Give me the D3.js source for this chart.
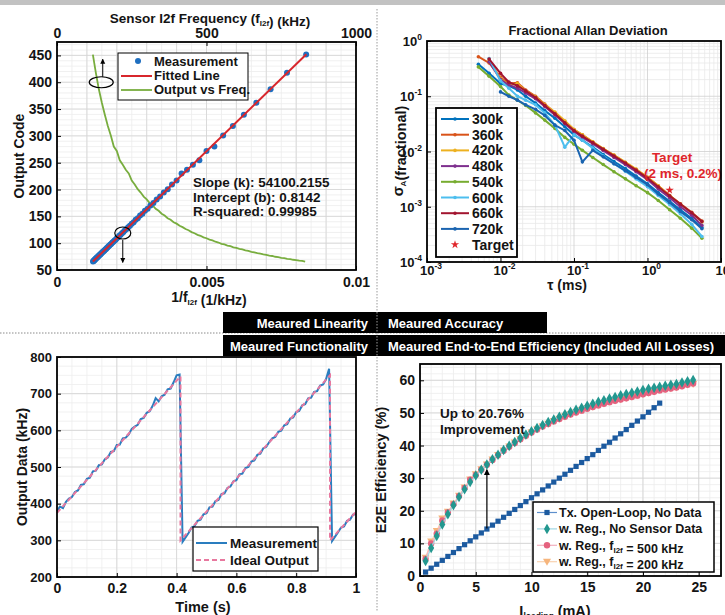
<!DOCTYPE html>
<html>
<head>
<meta charset="utf-8">
<script src="https://cdn.jsdelivr.net/npm/d3@7"></script>
<style>
  body { margin: 0; background: #fff; }
  text { font-family: "Liberation Sans", Arial, sans-serif; font-weight: bold; fill: #141414; }
</style>
</head>
<body>
<svg id="fig" width="725" height="615"></svg>
<script>
// ---------- data: linearity ----------
const freqKHz = [120,130,140,150,160,170,180,190,200,210,220,230,240,250,260,270,280,290,300,310,320,330,340,350,360,370,380,390,400,410,420,430,440,450,460,470,480,490,500,510,520,530,540,550,560,570,580,590,600,610,620,630,640,650,660,670,680,690,700,710,720,730,740,750,760,770,780,790,800,810,820,830]
const outCode = [451.6,417.5,386.8,361.9,339.4,318.6,300.9,280.2,271.8,254.5,246.2,236.8,230.0,216.8,209.5,200.6,194.4,186.9,181.5,174.8,170.3,164.2,160.4,155.0,151.5,146.6,143.6,139.1,136.4,132.4,129.9,126.3,124.1,120.7,118.6,115.6,113.8,110.9,109.2,106.6,105.1,102.7,101.2,98.9,97.6,95.5,94.3,92.2,91.2,89.3,88.3,86.5,85.5,83.8,83.0,81.4,80.6,79.0,78.3,76.8,76.1,74.7,74.1,72.7,72.2,70.9,70.4,69.1,68.6,67.4,67.0,65.8]
const fitX = [0.0012, 0.00834]
const fitY = [65.7, 452.0]
const fitText = ['Slope (k): 54100.2155', 'Intercept (b): 0.8142', 'R-squared: 0.99985']

// ---------- data: Allan deviation ----------
const tauMs = [0.005,0.007,0.01,0.013,0.017,0.022,0.03,0.04,0.055,0.075,0.1,0.13,0.18,0.25,0.35,0.5,0.7,1.0,1.4,2.0,2.8,4.0,5.5]
const s300 = [0.38,0.26,0.17,0.155,0.13,0.10,0.075,0.055,0.040,0.028,0.020,0.016,0.012,0.0088,0.0066,0.0049,0.0036,0.0026,0.0018,0.00125,0.00088,0.00061,0.00042]
const s360 = [0.52,0.40,0.22,0.17,0.175,0.13,0.10,0.072,0.050,0.035,0.025,0.020,0.0148,0.0112,0.0085,0.0063,0.0047,0.0034,0.0024,0.0016,0.00113,0.00079,0.00055]
const s420 = [null,0.45,0.21,0.16,0.17,0.125,0.098,0.070,0.052,0.036,0.025,0.020,0.015,0.0113,0.0086,0.0064,0.0048,0.0034,0.0024,0.0016,0.00112,0.00077,0.00053]
const s480 = [null,0.42,0.20,0.16,0.14,0.115,0.090,0.065,0.046,0.032,0.023,0.018,0.0138,0.0104,0.0078,0.0058,0.0043,0.0031,0.0021,0.00145,0.0010,0.00070,0.00046]
const s540 = [0.34,0.23,0.15,0.105,0.085,0.068,0.050,0.037,0.026,0.018,0.0135,0.0105,0.0078,0.0058,0.0043,0.0032,0.0024,0.0018,0.0013,0.00088,0.00062,0.00041,0.00027]
const s600 = [null,0.48,0.19,0.14,0.10,0.085,0.070,0.050,0.030,0.012,0.020,0.016,0.0115,0.0083,0.0060,0.0044,0.0032,0.0023,0.0016,0.0011,0.00075,0.00048,0.00029]
const s660 = [null,0.47,0.26,0.18,0.155,0.125,0.095,0.068,0.048,0.033,0.024,0.019,0.0145,0.011,0.0083,0.0062,0.0046,0.0033,0.0023,0.00158,0.00112,0.00078,0.00054]
const s720 = [null,null,0.12,0.10,0.085,0.07,0.058,0.045,0.03,0.024,0.016,0.0065,0.0105,0.008,0.006,0.0045,0.0034,0.0025,0.0017,0.0012,0.00082,0.00058,0.0004]
const allanNames = ['300k','360k','420k','480k','540k','600k','660k','720k']
const allanColors = ['#0072BD','#D95319','#EDB120','#7E2F8E','#77AC30','#4DBEEE','#A2142F','#1a64b0']
const target = [2, 0.002]

// ---------- data: functionality ----------
const timeS = [0,0.01,0.02,0.03,0.04,0.05,0.06,0.07,0.08,0.09,0.1,0.11,0.12,0.13,0.14,0.15,0.16,0.17,0.18,0.19,0.2,0.21,0.22,0.23,0.24,0.25,0.26,0.27,0.28,0.29,0.3,0.31,0.32,0.33,0.34,0.35,0.36,0.37,0.38,0.39,0.4,0.41,0.42,0.43,0.44,0.45,0.46,0.47,0.48,0.49,0.5,0.51,0.52,0.53,0.54,0.55,0.56,0.57,0.58,0.59,0.6,0.61,0.62,0.63,0.64,0.65,0.66,0.67,0.68,0.69,0.7,0.71,0.72,0.73,0.74,0.75,0.76,0.77,0.78,0.79,0.8,0.81,0.82,0.83,0.84,0.85,0.86,0.87,0.88,0.89,0.9,0.91,0.92,0.93,0.94,0.95,0.96,0.97,0.98,0.99,1.0]
const measKHz = [380,392,388,405,414,418,432,436,451,453,468,471,488,490,505,507,521,526,541,543,560,561,578,580,589,604,610,615,631,634,648,652,667,688,679,693,697,712,714,731,750,752,296,308,320,335,339,353,356,371,374,390,392,407,410,426,428,443,447,461,464,480,482,497,500,515,518,533,536,551,555,568,578,582,596,599,614,617,632,635,650,653,668,671,687,689,705,707,722,725,740,768,298,310,322,335,338,353,356,370,372]
const idealT = [0, 0.413, 0.413, 0.913, 0.913, 1.0]
const idealKHz = [375, 747, 300, 750, 300, 378]

// ---------- data: efficiency ----------
const iLoad = [0.5,1,1.5,2,2.5,3,3.5,4,4.5,5,5.5,6,6.5,7,7.5,8,8.5,9,9.5,10,10.5,11,11.5,12,12.5,13,13.5,14,14.5,15,15.5,16,16.5,17,17.5,18,18.5,19,19.5,20,20.5,21,21.5,22,22.5,23,23.5,24,24.5]
const effOpen = [1.2,2.4,3.6,4.8,6.0,7.2,8.4,9.6,10.8,12.0,13.2,14.4,15.6,16.8,18.0,19.2,20.4,21.6,22.8,24.0,25.2,26.4,27.6,28.8,30.0,31.2,32.4,33.6,34.8,36.0,37.2,38.5,39.8,41.0,42.3,43.6,44.9,46.2,47.5,48.8,50.2,51.6,53.0]
const effReg = [4.6,8.6,12.3,15.8,18.9,21.7,24.2,26.6,28.8,30.8,32.6,34.2,35.8,37.2,38.6,39.9,41.1,42.3,43.4,44.4,45.4,46.3,47.2,48.0,48.8,49.6,50.3,51.0,51.6,52.2,52.8,53.4,53.9,54.4,54.9,55.4,55.8,56.2,56.6,57.0,57.4,57.7,58.0,58.3,58.6,58.9,59.3,59.7,60.1]
const eff500 = [5.2,10.0,13.0,17.0,19.5,22.0,24.5,27.0,29.5,31.0,32.6,34.1,35.6,37.0,38.4,39.6,40.8,41.9,43.0,44.0,44.9,45.8,46.6,47.4,48.1,48.8,49.5,50.1,50.7,51.3,51.8,52.3,52.8,53.3,53.7,54.1,54.5,54.9,55.3,55.7,56.1,56.5,56.9,57.2,57.5,57.8,58.2,58.6,59.0]
const eff200 = [5.6,10.6,13.8,17.6,19.7,22.2,24.6,27.1,29.6,31.2,32.7,34.2,35.7,37.1,38.5,39.7,40.9,42.0,43.1,44.1,45.0,45.9,46.7,47.5,48.2,48.9,49.6,50.2,50.8,51.4,51.9,52.4,52.9,53.4,53.8,54.2,54.6,55.0,55.4,55.8,56.2,56.6,57.0,57.3,57.6,57.9,58.3,58.7,58.9]

const svg = d3.select('#fig')

// helpers
function grid(g, xs, ys, xVals, yVals, color) {
  g.selectAll(null).data(xVals).enter().append('line')
    .attr('x1', d => xs(d)).attr('x2', d => xs(d))
    .attr('y1', ys.range()[0]).attr('y2', ys.range()[1])
    .attr('stroke', color).attr('stroke-width', 0.8)
  g.selectAll(null).data(yVals).enter().append('line')
    .attr('y1', d => ys(d)).attr('y2', d => ys(d))
    .attr('x1', xs.range()[0]).attr('x2', xs.range()[1])
    .attr('stroke', color).attr('stroke-width', 0.8)
}
function frame(xs, ys) {
  svg.append('rect')
    .attr('x', xs.range()[0]).attr('y', ys.range()[1])
    .attr('width', xs.range()[1] - xs.range()[0])
    .attr('height', ys.range()[0] - ys.range()[1])
    .attr('fill', 'none').attr('stroke', '#000').attr('stroke-width', 1.8)
}
function styleAxis(g, size) {
  g.select('.domain').remove()
  g.selectAll('.tick line').attr('stroke', '#000')
  g.selectAll('.tick text').attr('font-size', size).attr('fill', '#141414')
}
function label(x, y, txt, size, rot, anchor) {
  return svg.append('text')
    .attr('transform', 'translate(' + x + ',' + y + ')' + (rot ? ' rotate(' + rot + ')' : ''))
    .attr('text-anchor', anchor || 'middle')
    .attr('font-size', size)
    .text(txt)
}
function sub(t, s) {
  t.append('tspan').attr('font-size', 8).attr('dy', 3).text(s)
  t.append('tspan').attr('dy', -3).text('')
}
const rng = n => d3.range(n)

// ---------- header / separators ----------
svg.append('rect').attr('x', 0).attr('y', 0).attr('width', 725).attr('height', 5).attr('fill', '#c2c2c2')
svg.append('line').attr('x1', 0).attr('x2', 725).attr('y1', 333).attr('y2', 333)
  .attr('stroke', '#8a8a8a').attr('stroke-dasharray', '1.5,1.5')
svg.append('rect').attr('x', 223).attr('y', 312).attr('width', 324).attr('height', 21).attr('fill', '#000')
svg.append('rect').attr('x', 223).attr('y', 335).attr('width', 502).attr('height', 21).attr('fill', '#000')
const hdr = [['Meaured Linearity', 368, 327.5, 'end'], ['Meaured Accuracy', 388, 327.5, 'start'],
             ['Meaured Functionality', 368, 350.5, 'end'], ['Meaured End-to-End Efficiency (Included All Losses)', 388, 350.5, 'start']]
hdr.forEach(h => label(h[1], h[2], h[0], 13, 0, h[3]).style('fill', '#fff'))
svg.append('line').attr('x1', 377).attr('x2', 377).attr('y1', 9).attr('y2', 612)
  .attr('stroke', '#9a9a9a').attr('stroke-dasharray', '1.5,1.5')

// ---------- panel 1: linearity ----------
const x1 = d3.scaleLinear().domain([0, 0.01]).range([57, 356])
const x1top = d3.scaleLinear().domain([0, 1000]).range([57, 356])
const y1 = d3.scaleLinear().domain([50, 475]).range([270, 42])
const g1 = svg.append('g')
grid(g1, x1, y1, d3.range(0.0005, 0.01, 0.0005), d3.range(60, 475, 10), '#ececec')
grid(g1, x1, y1, d3.range(0.001, 0.01, 0.001), d3.range(50, 475, 50), '#d4d4d4')

g1.append('path')
  .datum(rng(freqKHz.length))
  .attr('fill', 'none').attr('stroke', '#78ad3e').attr('stroke-width', 1.8)
  .attr('d', d3.line().x(i => x1top(freqKHz[i])).y(i => y1(outCode[i])))
g1.selectAll('.meas').data(rng(freqKHz.length)).enter().append('circle')
  .attr('cx', i => x1(1 / freqKHz[i])).attr('cy', i => y1(outCode[i]))
  .attr('r', 3).attr('fill', '#1f6fc0')
g1.append('path')
  .datum(rng(fitX.length))
  .attr('fill', 'none').attr('stroke', '#d8262c').attr('stroke-width', 2)
  .attr('d', d3.line().x(i => x1(fitX[i])).y(i => y1(fitY[i])))

frame(x1, y1)
svg.append('g').attr('transform', 'translate(57,0)')
  .call(d3.axisLeft(y1).tickValues(d3.range(50, 451, 50)).tickSize(-4).tickPadding(5))
  .call(g => styleAxis(g, 14))
svg.append('g').attr('transform', 'translate(0,270)')
  .call(d3.axisBottom(x1).tickValues([0, 0.005, 0.01]).tickFormat(d => d === 0 ? '0' : String(d)).tickSize(-4).tickPadding(7))
  .call(g => styleAxis(g, 14))
svg.append('g').attr('transform', 'translate(0,42)')
  .call(d3.axisTop(x1top).tickValues([0, 500, 1000]).tickFormat(d => String(d)).tickSize(-4).tickPadding(4))
  .call(g => styleAxis(g, 14))

let t = label(210, 23, 'Sensor I2f Frequency (f', 13.5)
sub(t, 'I2f'); t.append('tspan').text(') (kHz)')
label(24, 156, 'Output Code', 14, -90)
t = label(209, 302, '1/f', 14)
sub(t, 'I2f'); t.append('tspan').text(' (1/kHz)')

// annotations
svg.append('ellipse').attr('cx', x1top(148)).attr('cy', y1(400)).attr('rx', 12).attr('ry', 5.5)
  .attr('fill', 'none').attr('stroke', '#000').attr('stroke-width', 1.2)
svg.append('ellipse').attr('cx', x1(0.0022)).attr('cy', y1(119)).attr('rx', 8).attr('ry', 6)
  .attr('fill', 'none').attr('stroke', '#000').attr('stroke-width', 1.2)
svg.append('defs').append('marker').attr('id', 'ah').attr('viewBox', '0 0 10 10')
  .attr('refX', 9).attr('refY', 5).attr('markerWidth', 5).attr('markerHeight', 6).attr('orient', 'auto')
  .append('path').attr('d', 'M0,0L10,5L0,10z').attr('fill', '#000')
svg.append('line').attr('x1', x1top(153)).attr('x2', x1top(153)).attr('y1', y1(410)).attr('y2', y1(443))
  .attr('stroke', '#000').attr('stroke-width', 1).attr('marker-end', 'url(#ah)')
svg.append('line').attr('x1', x1(0.0022)).attr('x2', x1(0.0022)).attr('y1', y1(106)).attr('y2', y1(64))
  .attr('stroke', '#000').attr('stroke-width', 1).attr('marker-end', 'url(#ah)')
fitText.forEach((s, i) => label(193, 187 + i * 14.5, s, 13.5, 0, 'start'))

// legend
svg.append('rect').attr('x', 118).attr('y', 53).attr('width', 130).attr('height', 47)
  .attr('fill', '#fff').attr('stroke', '#000').attr('stroke-width', 1)
svg.append('circle').attr('cx', 138).attr('cy', 61).attr('r', 3).attr('fill', '#1f6fc0')
svg.append('line').attr('x1', 121).attr('x2', 152).attr('y1', 76).attr('y2', 76).attr('stroke', '#d8262c').attr('stroke-width', 2)
svg.append('line').attr('x1', 121).attr('x2', 152).attr('y1', 90).attr('y2', 90).attr('stroke', '#78ad3e').attr('stroke-width', 1.8)
;['Measurement', 'Fitted Line', 'Output vs Freq.'].forEach((s, i) => label(154, 66 + i * 14, s, 13, 0, 'start'))

// ---------- panel 2: Allan deviation ----------
const x2 = d3.scaleLog().domain([1e-3, 1e1]).range([427, 721])
const y2 = d3.scaleLog().domain([1e-4, 1]).range([262, 41])
const g2 = svg.append('g')
const minorX = [], minorY = []
;[1e-3, 1e-2, 1e-1, 1].forEach(d => d3.range(2, 10).forEach(k => minorX.push(d * k)))
;[1e-4, 1e-3, 1e-2, 1e-1].forEach(d => d3.range(2, 10).forEach(k => minorY.push(d * k)))
grid(g2, x2, y2, minorX, minorY, '#e9e9e9')
grid(g2, x2, y2, [1e-2, 1e-1, 1], [1e-3, 1e-2, 1e-1], '#cfcfcf')

const allan = [s300, s360, s420, s480, s540, s600, s660, s720]
allan.forEach((s, k) => {
  g2.append('path').datum(rng(tauMs.length))
    .attr('fill', 'none').attr('stroke', allanColors[k]).attr('stroke-width', 2)
    .attr('d', d3.line().defined(i => s[i] != null).x(i => x2(tauMs[i])).y(i => y2(s[i])))
  g2.selectAll(null).data(rng(tauMs.length).filter(i => s[i] != null)).enter().append('circle')
    .attr('cx', i => x2(tauMs[i])).attr('cy', i => y2(s[i])).attr('r', 1.8).attr('fill', allanColors[k])
})
const star = d3.symbol().type(d3.symbolStar).size(22)
svg.append('path').attr('d', star()).attr('fill', '#e0262b')
  .attr('transform', 'translate(' + x2(target[0]) + ',' + y2(target[1]) + ')')
label(672, 162, 'Target', 13.5).style('fill', '#e0262b')
label(683, 178, '(2 ms, 0.2%)', 13.5).style('fill', '#e0262b')

frame(x2, y2)
svg.append('g').attr('transform', 'translate(427,0)')
  .call(d3.axisLeft(y2).tickValues([1e-4, 1e-3, 1e-2, 1e-1, 1]).tickFormat('').tickSize(-4))
  .call(g => styleAxis(g, 13))
svg.append('g').attr('transform', 'translate(0,262)')
  .call(d3.axisBottom(x2).tickValues([1e-3, 1e-2, 1e-1, 1, 10]).tickFormat('').tickSize(-4))
  .call(g => styleAxis(g, 13))
const pow = e => (e < 0 ? '-' : '') + Math.abs(e)
;[-4, -3, -2, -1, 0].forEach(e => {
  const tt = label(422, y2(Math.pow(10, e)) + 5, '10', 13, 0, 'end')
  tt.append('tspan').attr('font-size', 8.5).attr('dy', -6).text(pow(e))
})
;[-3, -2, -1, 0, 1].forEach(e => {
  const tt = label(x2(Math.pow(10, e)) + 4, 275, '10', 13)
  tt.append('tspan').attr('font-size', 8.5).attr('dy', -6).text(pow(e))
})
label(588, 35, 'Fractional Allan Deviation', 13)
t = label(403, 151, 'σ', 14.5, -90)
sub(t, 'A'); t.append('tspan').text('(fractional)')
label(567, 290, 'τ (ms)', 14)

svg.append('rect').attr('x', 436).attr('y', 108).attr('width', 81).attr('height', 149)
  .attr('fill', '#fff').attr('stroke', '#000').attr('stroke-width', 1.8)
allanNames.forEach((n, k) => {
  const yy = 119 + k * 15.7
  svg.append('line').attr('x1', 441).attr('x2', 469).attr('y1', yy).attr('y2', yy)
    .attr('stroke', allanColors[k]).attr('stroke-width', 2)
  svg.append('circle').attr('cx', 455).attr('cy', yy).attr('r', 1.8).attr('fill', allanColors[k])
  label(472, yy + 5, n, 14, 0, 'start')
})
svg.append('path').attr('d', star()).attr('fill', '#e0262b').attr('transform', 'translate(455,' + (119 + 8 * 15.7) + ')')
label(472, 119 + 8 * 15.7 + 5, 'Target', 14, 0, 'start')

// ---------- panel 3: functionality ----------
const x3 = d3.scaleLinear().domain([0, 1]).range([57, 356])
const y3 = d3.scaleLinear().domain([200, 800]).range([577, 357])
const g3 = svg.append('g')
grid(g3, x3, y3, d3.range(0.05, 1, 0.05), d3.range(225, 800, 25), '#ededed')
grid(g3, x3, y3, d3.range(0.2, 1, 0.2), d3.range(300, 800, 100), '#d2d2d2')
g3.append('path').datum(rng(timeS.length))
  .attr('fill', 'none').attr('stroke', '#2a7dbf').attr('stroke-width', 2)
  .attr('d', d3.line().x(i => x3(timeS[i])).y(i => y3(measKHz[i])))
g3.append('path').datum(rng(idealT.length))
  .attr('fill', 'none').attr('stroke', '#e8789f').attr('stroke-width', 2).attr('stroke-dasharray', '5,3')
  .attr('d', d3.line().x(i => x3(idealT[i])).y(i => y3(idealKHz[i])))
frame(x3, y3)
svg.append('g').attr('transform', 'translate(57,0)')
  .call(d3.axisLeft(y3).tickValues(d3.range(200, 801, 100)).tickSize(-4).tickPadding(5))
  .call(g => styleAxis(g, 13))
svg.append('g').attr('transform', 'translate(0,577)')
  .call(d3.axisBottom(x3).tickValues(d3.range(0, 1.01, 0.2)).tickFormat(d3.format('~g')).tickSize(-4).tickPadding(6))
  .call(g => styleAxis(g, 14))
label(27, 467, 'Output Data (kHz)', 14, -90)
label(203, 612, 'Time (s)', 14.5)
svg.append('rect').attr('x', 193).attr('y', 527).attr('width', 125).attr('height', 44)
  .attr('fill', '#fff').attr('stroke', '#000').attr('stroke-width', 1.2)
svg.append('line').attr('x1', 196).attr('x2', 227).attr('y1', 543).attr('y2', 543).attr('stroke', '#2a7dbf').attr('stroke-width', 2)
svg.append('line').attr('x1', 196).attr('x2', 227).attr('y1', 560).attr('y2', 560).attr('stroke', '#e8789f').attr('stroke-width', 2).attr('stroke-dasharray', '5,3')
label(230, 548, 'Measurement', 13.5, 0, 'start')
label(230, 565, 'Ideal Output', 13.5, 0, 'start')

// ---------- panel 4: efficiency ----------
const x4 = d3.scaleLinear().domain([0, 27]).range([420, 721])
const y4 = d3.scaleLinear().domain([0, 65]).range([576, 364])
const g4 = svg.append('g')
grid(g4, x4, y4, d3.range(1, 27, 1), d3.range(2, 65, 2), '#ececec')
grid(g4, x4, y4, d3.range(5, 27, 5), d3.range(10, 65, 10), '#d2d2d2')

const diamond = d3.symbol().type(d3.symbolDiamond).size(32)
const tri = 'M-4,-3L4,-3L0,4Z'
const series4 = [
  { v: eff200, c: '#f6b57c', lc: '#f9d2b0', m: 'tri' },
  { v: eff500, c: '#e5627f', lc: '#f2b0bf', m: 'circle' },
  { v: effReg, c: '#23978f', lc: '#9fd6e2', m: 'diamond' },
  { v: effOpen, c: '#1c5a9f', lc: '#5d8fcc', m: 'square' }
]
function marker(g, m, c, x, y) {
  if (m === 'square') g.append('rect').attr('x', x - 2.6).attr('y', y - 2.6).attr('width', 5.2).attr('height', 5.2).attr('fill', c)
  else if (m === 'circle') g.append('circle').attr('cx', x).attr('cy', y).attr('r', 3.2).attr('fill', c)
  else if (m === 'diamond') g.append('path').attr('d', diamond()).attr('transform', 'translate(' + x + ',' + y + ')').attr('fill', c)
  else g.append('path').attr('d', tri).attr('transform', 'translate(' + x + ',' + y + ')').attr('fill', c)
}
series4.forEach(s => {
  g4.append('path').datum(rng(s.v.length))
    .attr('fill', 'none').attr('stroke', s.lc).attr('stroke-width', 1.2)
    .attr('d', d3.line().x(i => x4(iLoad[i])).y(i => y4(s.v[i])))
  s.v.forEach((v, i) => marker(g4, s.m, s.c, x4(iLoad[i]), y4(v)))
})
svg.append('line').attr('x1', x4(6)).attr('x2', x4(6)).attr('y1', y4(14.6)).attr('y2', y4(32.6))
  .attr('stroke', '#000').attr('stroke-width', 1.2).attr('marker-end', 'url(#ah)')
label(440, 418, 'Up to 20.76%', 13.5, 0, 'start')
label(440, 434, 'Improvement', 13.5, 0, 'start')

frame(x4, y4)
svg.append('g').attr('transform', 'translate(420,0)')
  .call(d3.axisLeft(y4).tickValues(d3.range(0, 61, 10)).tickSize(-4).tickPadding(5))
  .call(g => styleAxis(g, 14))
svg.append('g').attr('transform', 'translate(0,576)')
  .call(d3.axisBottom(x4).tickValues(d3.range(0, 26, 5)).tickSize(-4).tickPadding(6))
  .call(g => styleAxis(g, 14))
label(386, 470, 'E2E Efficiency (%)', 14.5, -90)
t = label(555, 616, 'I', 14.5)
t.append('tspan').attr('font-size', 8.5).attr('dy', 3).text('loading')
t.append('tspan').attr('dy', -3).text(' (mA)')

svg.append('rect').attr('x', 533).attr('y', 502).attr('width', 181).attr('height', 70)
  .attr('fill', '#fff').attr('stroke', '#000').attr('stroke-width', 1.5)
const leg4 = [
  [series4[3], 'Tx. Open-Loop, No Data', null],
  [series4[2], 'w. Reg., No Sensor Data', null],
  [series4[1], 'w. Reg., f', ' = 500 kHz'],
  [series4[0], 'w. Reg., f', ' = 200 kHz']
]
leg4.forEach((e, k) => {
  const yy = 512.5 + k * 16.4
  svg.append('line').attr('x1', 537).attr('x2', 557).attr('y1', yy).attr('y2', yy).attr('stroke', e[0].lc).attr('stroke-width', 1.2)
  marker(svg, e[0].m, e[0].c, 547, yy)
  const tt = label(559, yy + 4.5, e[1], 12.5, 0, 'start')
  if (e[2]) { sub(tt, 'I2f'); tt.append('tspan').text(e[2]) }
})
</script>
</body>
</html>
